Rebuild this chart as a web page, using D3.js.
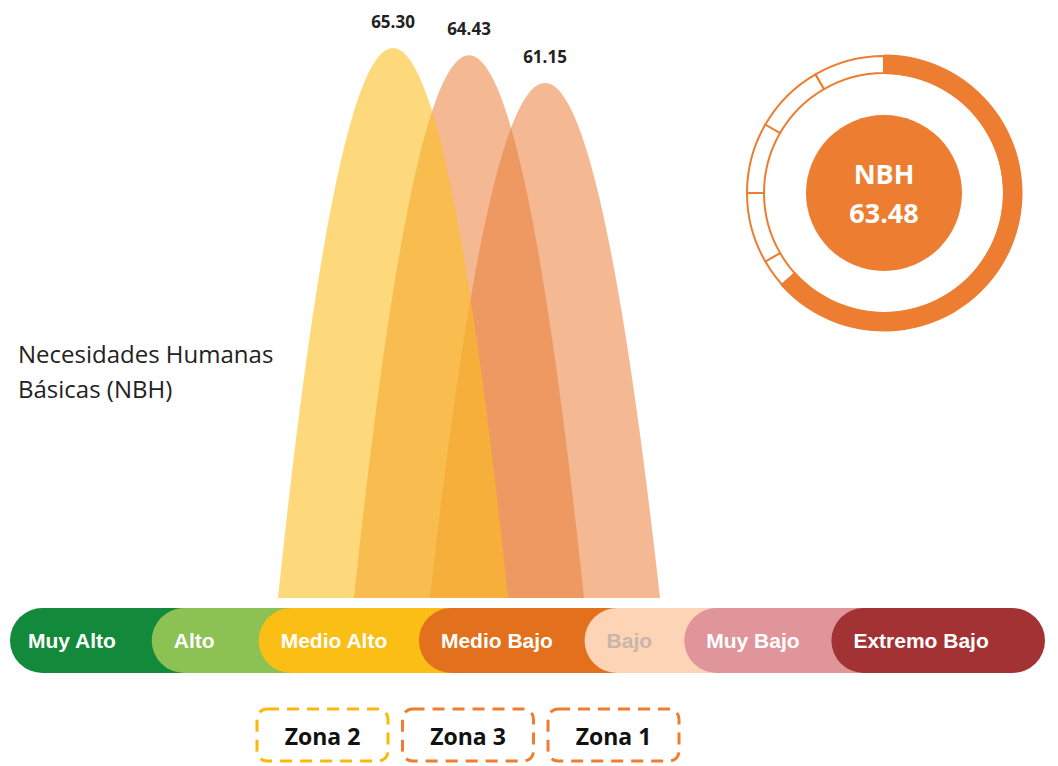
<!DOCTYPE html>
<html>
<head>
<meta charset="utf-8">
<script src="https://cdn.jsdelivr.net/npm/d3@7"></script>
<style>
  body { margin: 0; background: #fff; }
  svg { display: block; }
</style>
</head>
<body>
<svg></svg>
<script>
var width = 1058,
  height = 766;

// Data
var tiers = ["Muy Alto", "Alto", "Medio Alto", "Medio Bajo", "Bajo", "Muy Bajo", "Extremo Bajo"];
var zones = ["Zona 2", "Zona 3", "Zona 1"];
var zoneValues = [65.30, 64.43, 61.15];
var nbhLabel = "NBH";
var nbhValue = 63.48;
var ringSegments = 12;
var title = ["Necesidades Humanas", "Básicas (NBH)"];

var svg = d3.select("svg")
  .attr("width", width)
  .attr("height", height);

var tierColor = d3.scaleOrdinal()
  .domain(tiers)
  .range(["#138a3b", "#8cc153", "#fbbe15", "#e2701d", "#fdd4b6", "#df959a", "#a33234"]);

var tierText = d3.scaleOrdinal()
  .domain(tiers)
  .range(["#fff", "#fff", "#fff", "#fff", "#c8b6aa", "#fff", "#fff"]);

var zoneFill = d3.scaleOrdinal()
  .domain(zones)
  .range(["#fcbf1f", "#eb813d", "#eb813d"]);

var zoneStroke = d3.scaleOrdinal()
  .domain(zones)
  .range(["#f9b80a", "#ed7d31", "#ed7d31"]);

// ---- classification strip ----
var stripTop = 608,
  stripH = 65,
  pad = 55;

// measure label widths so each pill fits its label
var probe = svg.append("text")
  .style("font", "bold 21px 'Liberation Sans', Arial, sans-serif");
var tierWidths = tiers.map(function(t, i) {
  var w = probe.text(t).node().getComputedTextLength() + pad;
  if (i === 1) w += 12;
  return i === tiers.length - 1 ? w + 25 : w;
});
probe.remove();

var cum = [0];
tierWidths.forEach(function(w, i) { cum.push(cum[i] + w); });

var xStrip = d3.scaleLinear()
  .domain([0, cum[cum.length - 1]])
  .range([10, 1045]);

var pills = svg.append("g")
  .attr("class", "strip")
  .selectAll("g")
  .data(tiers)
  .enter().append("g");

// every pill runs on under the next one, so only its left cap shows
pills.append("rect")
  .attr("x", function(d, i) { return xStrip(cum[i]); })
  .attr("y", stripTop)
  .attr("width", function(d, i) {
    var x1 = xStrip(cum[i + 1]);
    if (i < tiers.length - 1) x1 += stripH + 10;
    return x1 - xStrip(cum[i]);
  })
  .attr("height", stripH)
  .attr("rx", stripH / 2)
  .style("fill", function(d) { return tierColor(d); });

pills.append("text")
  .attr("x", function(d, i) { return xStrip(cum[i]) + (i === 0 ? 18 : 22); })
  .attr("y", stripTop + stripH / 2 + 7.5)
  .text(function(d) { return d; })
  .style("font", "bold 21px 'Liberation Sans', Arial, sans-serif")
  .style("fill", function(d) { return tierText(d); });

// ---- zone bells ----
var base = 598,
  halfW = 115;

var xBell = d3.scalePoint()
  .domain(zones)
  .range([393, 545]);

var yBell = d3.scaleLinear()
  .domain([0, d3.max(zoneValues)])
  .range([base, 48]);

var bellLine = d3.line()
  .x(function(p) { return p[0]; })
  .y(function(p) { return p[1]; });

function bellPath(zone, value) {
  var cx = xBell(zone), pts = [];
  for (var k = -50; k <= 50; k++) {
    var u = k / 50;
    pts.push([cx + u * halfW, yBell(value * (1 - u * u))]);
  }
  return bellLine(pts) + "Z";
}

var bells = zones.map(function(z, i) { return { zone: z, value: zoneValues[i] }; });
// draw orange ones first, yellow on top
var drawOrder = [bells[1], bells[2], bells[0]];

svg.append("g")
  .attr("class", "bells")
  .selectAll("path")
  .data(drawOrder)
  .enter().append("path")
  .attr("d", function(d) { return bellPath(d.zone, d.value); })
  .style("fill", function(d) { return zoneFill(d.zone); })
  .style("fill-opacity", function(d) { return d.zone === "Zona 2" ? 0.59 : 0.56; });

svg.append("g")
  .attr("class", "values")
  .selectAll("text")
  .data(bells)
  .enter().append("text")
  .attr("x", function(d) { return xBell(d.zone); })
  .attr("y", function(d) { return yBell(d.value) - 20; })
  .attr("text-anchor", "middle")
  .text(function(d) { return d3.format(".2f")(d.value); })
  .style("font", "bold 17px 'Open Sans', sans-serif")
  .style("fill", "#222");

// ---- zone boxes ----
var xBox = d3.scaleBand()
  .domain(zones)
  .range([257, 679])
  .paddingInner(0.1);

var boxes = svg.append("g")
  .attr("class", "zones")
  .selectAll("g")
  .data(zones)
  .enter().append("g");

boxes.append("rect")
  .attr("x", function(d) { return xBox(d); })
  .attr("y", 709)
  .attr("width", xBox.bandwidth())
  .attr("height", 52)
  .attr("rx", 10)
  .style("fill", "none")
  .style("stroke", function(d) { return zoneStroke(d); })
  .style("stroke-width", 3)
  .style("stroke-dasharray", "12,8");

boxes.append("text")
  .attr("x", function(d) { return xBox(d) + xBox.bandwidth() / 2; })
  .attr("y", 745)
  .attr("text-anchor", "middle")
  .text(function(d) { return d; })
  .style("font", "bold 23px 'Open Sans', sans-serif")
  .style("fill", "#111");

// ---- title ----
svg.append("g")
  .attr("class", "title")
  .selectAll("text")
  .data(title)
  .enter().append("text")
  .attr("x", 18)
  .attr("y", function(d, i) { return 363 + i * 35; })
  .text(function(d) { return d; })
  .style("font", "24px 'Open Sans', sans-serif")
  .style("fill", "#222");

// ---- NBH gauge ----
var orange = "#ed7d31";
var gauge = svg.append("g")
  .attr("transform", "translate(884,193)");

var angle = d3.scaleLinear()
  .domain([0, 100])
  .range([0, 2 * Math.PI]);

var segArc = d3.arc().innerRadius(120).outerRadius(137);
var pie = d3.pie().sort(null).value(function() { return 1; });

gauge.selectAll("path.seg")
  .data(pie(d3.range(ringSegments)))
  .enter().append("path")
  .attr("class", "seg")
  .attr("d", segArc)
  .style("fill", "#fff")
  .style("stroke", orange)
  .style("stroke-width", 2);

gauge.append("path")
  .attr("d", d3.arc()
    .innerRadius(119)
    .outerRadius(138.5)
    .startAngle(0)
    .endAngle(angle(nbhValue)))
  .style("fill", orange);

gauge.append("circle")
  .attr("r", 78)
  .style("fill", orange);

gauge.append("text")
  .attr("y", -9)
  .attr("text-anchor", "middle")
  .text(nbhLabel)
  .style("font", "bold 27px 'Open Sans', sans-serif")
  .style("fill", "#fff");

gauge.append("text")
  .attr("y", 30)
  .attr("text-anchor", "middle")
  .text(d3.format(".2f")(nbhValue))
  .style("font", "bold 27px 'Open Sans', sans-serif")
  .style("fill", "#fff");
</script>
</body>
</html>
